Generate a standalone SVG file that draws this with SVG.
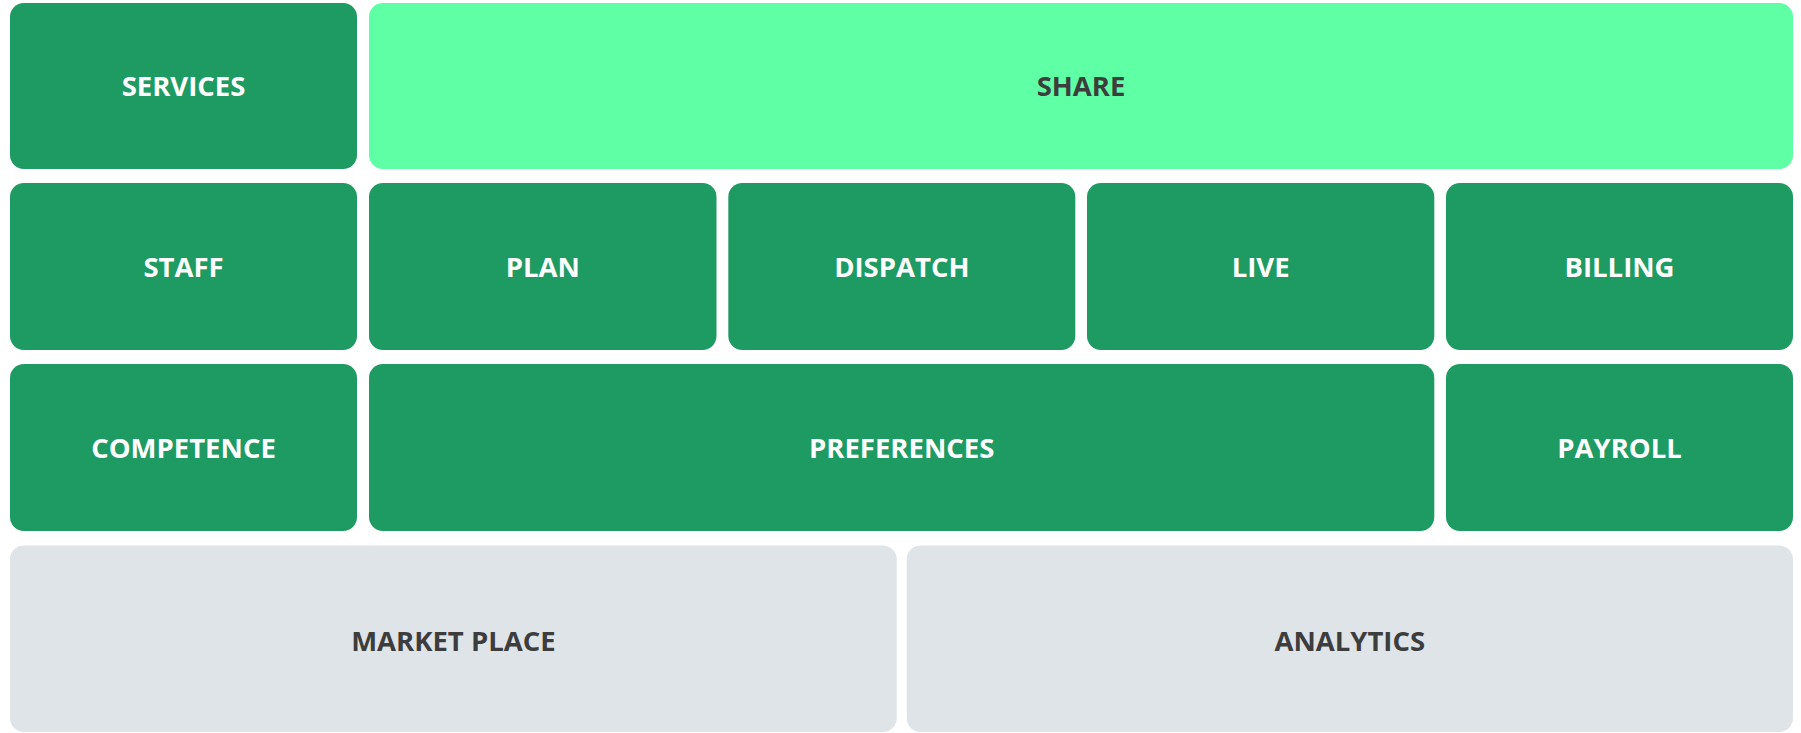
<svg xmlns="http://www.w3.org/2000/svg" width="1801" height="733" viewBox="0 0 1801 733">
<style>
.b{fill:#1e9a63}
.s{fill:#5effa5}
.g{fill:#dfe4e8}
text{font-family:"Open Sans","Noto Sans","Liberation Sans",sans-serif;font-weight:700;font-size:27.5px;text-anchor:middle}
.w{fill:#ffffff}
.d{fill:#3d3d3d}
</style>
<rect width="1801" height="733" fill="#ffffff"/>
<g id="services"><rect class="b" x="10" y="3" width="347" height="166" rx="14"/><text class="w" x="183.5" y="96">SERVICES</text></g>
<g id="share"><rect class="s" x="369" y="3" width="1424" height="166" rx="14"/><text class="d" x="1081" y="96">SHARE</text></g>
<g id="staff"><rect class="b" x="10" y="183" width="347" height="167" rx="14"/><text class="w" x="183.5" y="276.5">STAFF</text></g>
<g id="plan"><rect class="b" x="369" y="183" width="347.5" height="167" rx="14"/><text class="w" x="542.8" y="276.5">PLAN</text></g>
<g id="dispatch"><rect class="b" x="728.3" y="183" width="347" height="167" rx="14"/><text class="w" x="901.8" y="276.5">DISPATCH</text></g>
<g id="live"><rect class="b" x="1087" y="183" width="347.3" height="167" rx="14"/><text class="w" x="1260.7" y="276.5">LIVE</text></g>
<g id="billing"><rect class="b" x="1446" y="183" width="347" height="167" rx="14"/><text class="w" x="1619.5" y="276.5">BILLING</text></g>
<g id="competence"><rect class="b" x="10" y="364" width="347" height="167" rx="14"/><text class="w" x="183.5" y="457.5">COMPETENCE</text></g>
<g id="preferences"><rect class="b" x="369" y="364" width="1065.3" height="167" rx="14"/><text class="w" x="901.7" y="457.5">PREFERENCES</text></g>
<g id="payroll"><rect class="b" x="1446" y="364" width="347" height="167" rx="14"/><text class="w" x="1619.5" y="457.5">PAYROLL</text></g>
<g id="market-place"><rect class="g" x="10" y="545.5" width="886.7" height="186.5" rx="14"/><text class="d" x="453.4" y="651">MARKET PLACE</text></g>
<g id="analytics"><rect class="g" x="906.7" y="545.5" width="886.3" height="186.5" rx="14"/><text class="d" x="1349.8" y="651">ANALYTICS</text></g>
<g id="connectors"></g>
</svg>
